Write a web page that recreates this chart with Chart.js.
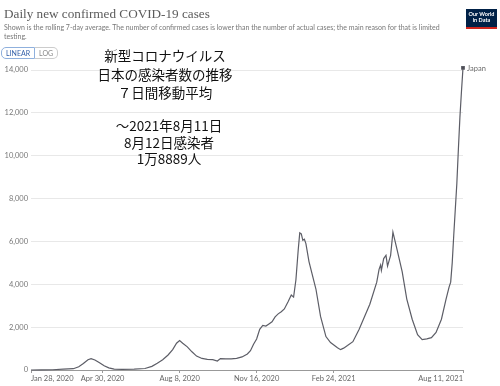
<!DOCTYPE html>
<html>
<head>
<meta charset="utf-8">
<script src="https://cdn.jsdelivr.net/npm/chart.js@4.4.0/dist/chart.umd.min.js"></script>
<style>
  body { margin: 0; background: #fff; }
  #wrap { position: relative; width: 500px; height: 386px; overflow: hidden; }
  #title { position: absolute; left: 4px; top: 6px; font-family: "Liberation Serif", serif; font-size: 13.2px; color: #5b5b5b; white-space: nowrap; }
  #sub { position: absolute; left: 4px; top: 23px; width: 445px; font-family: Lato, sans-serif; font-size: 7px; line-height: 9px; color: #777; }
  #logo { position: absolute; left: 466px; top: 9px; width: 31px; height: 16px; background: #002147; border-bottom: 2px solid #ce261e; color: #fff; font-family: Lato, sans-serif; font-weight: bold; font-size: 5.5px; line-height: 6px; text-align: center; padding-top: 2px; box-sizing: content-box; }
  #btns { position: absolute; left: 1px; top: 47px; font-family: Lato, sans-serif; font-size: 7px; }
  #btns span { display: inline-block; height: 10px; line-height: 10px; padding: 0 4px; border: 1px solid #ccc; }
  #btns .on { color: #3360a9; border-color: #8fb0dd; border-radius: 5px 0 0 5px; }
  #btns .off { color: #888; border-left: none; border-radius: 0 5px 5px 0; }
  .note { position: absolute; left: 60px; width: 210px; text-align: center; font-family: "Noto Sans CJK JP", sans-serif; font-size: 13.5px; color: #111; }
  #noteA { top: 46px; line-height: 18.5px; }
  #noteB { top: 117px; line-height: 16.5px; left: 64px; }
  canvas { position: absolute; left: 0; top: 0; }
</style>
</head>
<body>
<div id="wrap">
  <canvas id="myChart" width="500" height="386"></canvas>
  <div id="title">Daily new confirmed COVID-19 cases</div>
  <div id="sub">Shown is the rolling 7-day average. The number of confirmed cases is lower than the number of actual cases; the main reason for that is limited testing.</div>
  <div id="logo">Our World<br>in Data</div>
  <div id="btns"><span class="on">LINEAR</span><span class="off">LOG</span></div>
  <div class="note" id="noteA">新型コロナウイルス<br>日本の感染者数の推移<br>７日間移動平均</div>
  <div class="note" id="noteB">～2021年8月11日<br>8月12日感染者<br>1万8889人</div>
</div>
<script>
// 7-day average, Japan
const dates = [
  '2020-01-28', '2020-02-10', '2020-02-25', '2020-03-10', '2020-03-23', '2020-03-30',
  '2020-04-05', '2020-04-11', '2020-04-15', '2020-04-20', '2020-04-26', '2020-05-02',
  '2020-05-08', '2020-05-15', '2020-05-25', '2020-06-10', '2020-06-24', '2020-07-03',
  '2020-07-10', '2020-07-17', '2020-07-24', '2020-07-30', '2020-08-04', '2020-08-08',
  '2020-08-12', '2020-08-18', '2020-08-24', '2020-08-30', '2020-09-06', '2020-09-13',
  '2020-09-20', '2020-09-26', '2020-09-30', '2020-10-07', '2020-10-14', '2020-10-21',
  '2020-10-28', '2020-11-04', '2020-11-08', '2020-11-12', '2020-11-16', '2020-11-20',
  '2020-11-24', '2020-11-28', '2020-12-02', '2020-12-06', '2020-12-10', '2020-12-14',
  '2020-12-18', '2020-12-22', '2020-12-27', '2020-12-31', '2021-01-03', '2021-01-06',
  '2021-01-09', '2021-01-11', '2021-01-13', '2021-01-15', '2021-01-17', '2021-01-19',
  '2021-01-23', '2021-02-01', '2021-02-07', '2021-02-14', '2021-02-20', '2021-03-01',
  '2021-03-05', '2021-03-09', '2021-03-14', '2021-03-21', '2021-03-29', '2021-04-12',
  '2021-04-21', '2021-04-24', '2021-04-26', '2021-04-27', '2021-04-30', '2021-05-03',
  '2021-05-05', '2021-05-09', '2021-05-12', '2021-05-17', '2021-05-24', '2021-05-30',
  '2021-06-06', '2021-06-13', '2021-06-19', '2021-06-25', '2021-07-01', '2021-07-07',
  '2021-07-14', '2021-07-20', '2021-07-24', '2021-07-26', '2021-07-28', '2021-07-30',
  '2021-08-01', '2021-08-03', '2021-08-05', '2021-08-07', '2021-08-09', '2021-08-11'
];
const japan = [
  1, 3, 12, 40, 60, 150,
  300, 480, 530, 470, 340, 200,
  100, 40, 25, 40, 70, 170,
  320, 480, 700, 950, 1250, 1370,
  1250, 1080, 850, 650, 540, 500,
  480, 420, 530, 520, 520, 540,
  610, 750, 900, 1200, 1450, 1900,
  2080, 2050, 2150, 2250, 2480, 2620,
  2720, 2850, 3200, 3500, 3400, 4200,
  5600, 6400, 6350, 6050, 6100, 5900,
  5060, 3780, 2500, 1560, 1280, 1040,
  950, 1020, 1140, 1320, 1890, 3070,
  4100, 4700, 4900, 4650, 5200, 5350,
  4850, 5350, 6430, 5680, 4590, 3310,
  2370, 1650, 1420, 1450, 1510, 1750,
  2370, 3310, 3880, 4100, 5000, 6300,
  7500, 8700, 10300, 11800, 13000, 14100
];
const tickDates = ['2020-01-28', '2020-04-30', '2020-08-08', '2020-11-16', '2021-02-24', '2021-08-11'];
const tickLabels = ['Jan 28, 2020', 'Apr 30, 2020', 'Aug 8, 2020', 'Nov 16, 2020', 'Feb 24, 2021', 'Aug 11, 2021'];
const yTicks = [0, 2000, 4000, 6000, 8000, 10000, 12000, 14000];

const start = Date.parse(dates[0]);
function dayOf(d) {
    return Math.round((Date.parse(d) - start) / 86400000);
}
const tickDays = tickDates.map(dayOf);
const points = dates.map((d, i) => ({ x: dayOf(d), y: japan[i] }));

const endLabel = {
    id: 'endLabel',
    afterDatasetsDraw(chart) {
        const meta = chart.getDatasetMeta(0);
        const p = meta.data[meta.data.length - 1];
        const ctx = chart.ctx;
        ctx.save();
        ctx.fillStyle = '#6b6b6b';
        ctx.font = '7.5px Lato';
        ctx.textBaseline = 'middle';
        ctx.fillText('Japan', p.x + 4, p.y + 1);
        ctx.restore();
    }
};

const config = {
    type: 'line',
    data: {
        datasets: [{
            label: 'Japan',
            data: points,
            borderColor: '#5c5d66',
            backgroundColor: '#3c3d42',
            borderWidth: 1.2,
            tension: 0,
            pointRadius: points.map((p, i) => i == points.length - 1 ? 1.8 : 0),
            pointStyle: 'rect',
            clip: false
        }]
    },
    options: {
        responsive: false,
        animation: false,
        layout: { padding: { top: 70, right: 37, left: 0, bottom: 0 } },
        plugins: { legend: { display: false }, tooltip: { enabled: false } },
        scales: {
            x: {
                type: 'linear',
                min: 0,
                max: tickDays[tickDays.length - 1],
                afterBuildTicks: axis => { axis.ticks = tickDays.map(v => ({ value: v })); },
                afterFit: axis => { axis.height = 16; },
                ticks: {
                    autoSkip: false,
                    maxRotation: 0,
                    align: 'inner',
                    padding: 1,
                    color: '#666',
                    font: { family: 'Lato', size: 7.5 },
                    callback: (v) => tickLabels[tickDays.indexOf(v)]
                },
                grid: { drawOnChartArea: false, drawTicks: true, tickLength: 3, color: '#999' },
                border: { color: '#999' }
            },
            y: {
                min: 0,
                max: 14000,
                afterBuildTicks: axis => { axis.ticks = yTicks.map(v => ({ value: v })); },
                afterFit: axis => { axis.width = 31; },
                ticks: {
                    padding: 3,
                    color: '#777',
                    font: { family: 'Lato', size: 7.5 },
                    callback: v => v.toLocaleString('en-US')
                },
                grid: { color: '#e8e8e8', drawTicks: false },
                border: { display: false }
            }
        }
    },
    plugins: [endLabel]
};

const myChart = new Chart(document.getElementById('myChart'), config);
</script>
</body>
</html>
